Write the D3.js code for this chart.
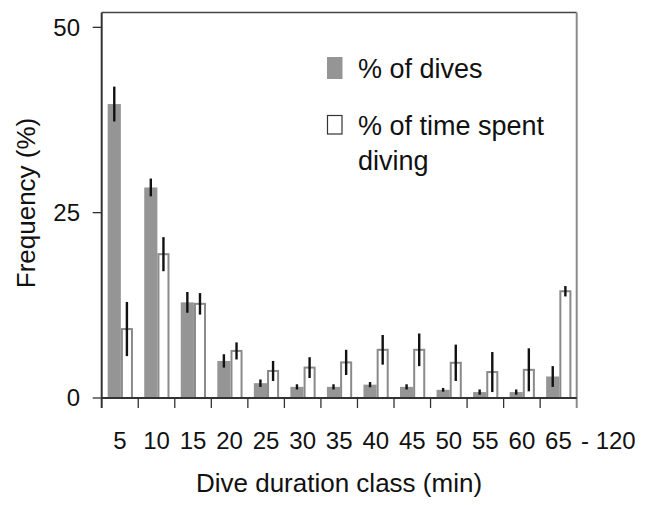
<!DOCTYPE html>
<html>
<head>
<meta charset="utf-8">
<script src="https://cdn.jsdelivr.net/npm/d3@7"></script>
<style>
  html, body { margin: 0; padding: 0; background: #fff; }
  svg { display: block; font-family: "Liberation Sans", Arial, sans-serif; }
</style>
</head>
<body>
<svg id="chart" width="645" height="505"></svg>
<script>
// ---- data ----
const categories = ["5","10","15","20","25","30","35","40","45","50","55","60","65"];
const divesPct   = [39.65, 28.4, 12.9, 5.0, 2.0, 1.5, 1.5, 1.8, 1.5, 1.1, 0.8, 0.8, 2.9];
const divesErr   = [2.35, 1.2, 1.4, 0.9, 0.5, 0.35, 0.35, 0.35, 0.35, 0.25, 0.35, 0.35, 1.4];
const timePct    = [9.3, 19.4, 12.7, 6.35, 3.65, 4.1, 4.8, 6.5, 6.5, 4.75, 3.5, 3.8, 14.4];
const timeErr    = [3.65, 2.3, 1.45, 1.15, 1.35, 1.4, 1.7, 2.0, 2.2, 2.45, 2.7, 2.9, 0.7];
const yTicks     = [0, 25, 50];
const extraLabel = "- 120";
const legendLabels = ["% of dives", ["% of time spent", "diving"]];
const xTitle = "Dive duration class (min)";
const yTitle = "Frequency (%)";

(function () {
// ---- layout ----
const svg = d3.select("#chart");
const pLeft = 101.7, pRight = 576.7, pTop = 12.5, pBottom = 398;

const x = d3.scaleBand().domain(categories).range([pLeft, pRight]).padding(0);
const y = d3.scaleLinear().domain([0, 52]).range([pBottom, pTop]);
const bw = x.bandwidth();

// frame (top and right)
svg.append("line").attr("x1", pLeft).attr("x2", pRight).attr("y1", pTop).attr("y2", pTop)
  .attr("stroke", "#444").attr("stroke-width", 1.6);
svg.append("line").attr("x1", pRight).attr("x2", pRight).attr("y1", pTop).attr("y2", pBottom + 10)
  .attr("stroke", "#8a8a8a").attr("stroke-width", 2);

// bars
const g = svg.append("g");
const grayX = c => x(c) + bw * 0.164;
const grayW = bw * 0.36;
const whiteX = c => x(c) + bw * 0.525;
const whiteW = bw * 0.33;

categories.forEach((c, i) => {
  g.append("rect")
    .attr("x", grayX(c)).attr("width", grayW)
    .attr("y", y(divesPct[i])).attr("height", y(0) - y(divesPct[i]))
    .attr("fill", "#959595");
  g.append("rect")
    .attr("x", whiteX(c) + 1).attr("width", whiteW - 2)
    .attr("y", y(timePct[i])).attr("height", y(0) - y(timePct[i]))
    .attr("fill", "#fff").attr("stroke", "#8a8a8a").attr("stroke-width", 2);
});
categories.forEach((c, i) => {
  const gx = grayX(c) + grayW / 2;
  g.append("line").attr("x1", gx).attr("x2", gx)
    .attr("y1", y(divesPct[i] + divesErr[i])).attr("y2", y(divesPct[i] - divesErr[i]))
    .attr("stroke", "#111").attr("stroke-width", 2.4);
  const wx = whiteX(c) + whiteW / 2;
  g.append("line").attr("x1", wx).attr("x2", wx)
    .attr("y1", y(timePct[i] + timeErr[i])).attr("y2", y(Math.max(0, timePct[i] - timeErr[i])))
    .attr("stroke", "#111").attr("stroke-width", 2.4);
});

// y axis
const yAxis = svg.append("g");
yAxis.append("line").attr("x1", pLeft).attr("x2", pLeft).attr("y1", pTop).attr("y2", pBottom + 10)
  .attr("stroke", "#333").attr("stroke-width", 2);
yTicks.forEach(t => {
  yAxis.append("line").attr("x1", pLeft - 9).attr("x2", pLeft).attr("y1", y(t)).attr("y2", y(t))
    .attr("stroke", "#333").attr("stroke-width", 1.3);
  yAxis.append("text").attr("x", 80).attr("y", y(t)).attr("dy", "0.35em")
    .attr("text-anchor", "end").attr("font-size", 24).attr("fill", "#111").text(t);
});

// x axis
const xAxis = svg.append("g");
xAxis.append("line").attr("x1", pLeft).attr("x2", pRight).attr("y1", pBottom).attr("y2", pBottom)
  .attr("stroke", "#333").attr("stroke-width", 2);
categories.forEach((c, i) => {
  if (i > 0) {
    xAxis.append("line").attr("x1", x(c)).attr("x2", x(c)).attr("y1", pBottom).attr("y2", pBottom + 10)
      .attr("stroke", "#333").attr("stroke-width", 1.3);
  }
  xAxis.append("text").attr("x", x(c) + bw / 2).attr("y", 449)
    .attr("text-anchor", "middle").attr("font-size", 24).attr("fill", "#111").text(c);
});
xAxis.append("text").attr("x", 581).attr("y", 449).attr("font-size", 24).attr("fill", "#111").text(extraLabel);

// titles
svg.append("text").attr("x", 339).attr("y", 492).attr("text-anchor", "middle")
  .attr("font-size", 26).attr("fill", "#111").text(xTitle);
svg.append("text").attr("transform", "translate(34.5,203) rotate(-90)")
  .attr("text-anchor", "middle").attr("font-size", 26).attr("fill", "#111").text(yTitle);

// legend
const lg = svg.append("g");
lg.append("rect").attr("x", 327).attr("y", 57).attr("width", 15.5).attr("height", 22).attr("fill", "#959595");
lg.append("text").attr("x", 358).attr("y", 78).attr("font-size", 27).attr("fill", "#111").text(legendLabels[0]);
lg.append("rect").attr("x", 327.5).attr("y", 115.5).attr("width", 14.5).attr("height", 18.5)
  .attr("fill", "#fff").attr("stroke", "#333").attr("stroke-width", 1.2);
legendLabels[1].forEach((t, k) => {
  lg.append("text").attr("x", 358).attr("y", 135 + k * 35).attr("font-size", 27).attr("fill", "#111").text(t);
});
})();
</script>
</body>
</html>
